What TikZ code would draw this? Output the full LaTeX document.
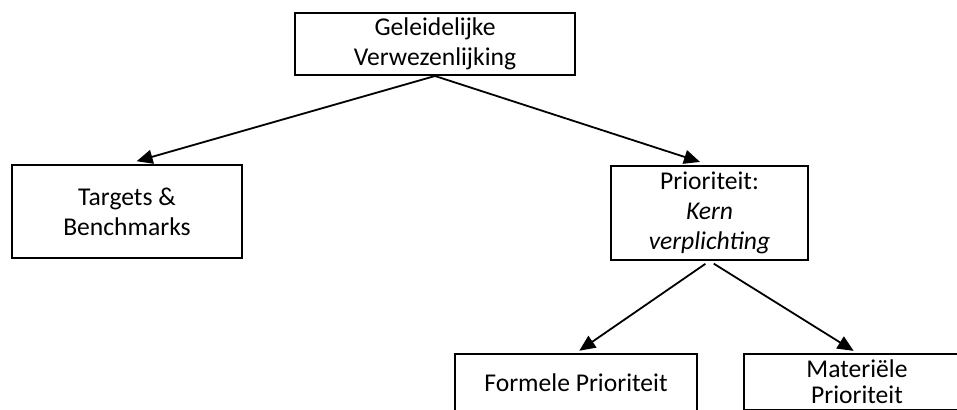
\documentclass[tikz,border=0pt]{standalone}
\usepackage{fontspec}
\setmainfont{Carlito}
\usetikzlibrary{arrows.meta}

\begin{document}
\begin{tikzpicture}[x=0.5pt,y=-0.5pt,
  box/.style={draw, line width=1pt, align=center, inner sep=0pt,
    font=\fontsize{12.8pt}{15pt}\selectfont},
  link/.style={line width=0.9pt, -{Triangle[length=8pt,width=7pt]}}]

 % frame
 \useasboundingbox (0,0) rectangle (957,410);
 \clip (0,0) rectangle (957,410);

 % nodes
 \node[box, minimum width=140pt, minimum height=31pt] (geleidelijk) at (435,44) {Geleidelijke\\Verwezenlijking};
 \node[box, minimum width=115pt, minimum height=46.5pt] (targets) at (127,211.5) {Targets \&\\Benchmarks};
 \node[box, minimum width=98.5pt, minimum height=47pt] (prioriteit) at (709.5,213) {Prioriteit:\\\textit{Kern}\\\textit{verplichting}};
 \node[box, minimum width=121pt, minimum height=29pt] (formeel) at (576,383) {Formele Prioriteit};
 \node[box, minimum width=113pt, minimum height=28pt,
   font=\fontsize{12.8pt}{13pt}\selectfont] (materieel) at (857,382) {Materiële\\Prioriteit};

 % arrows
 \draw[link, shorten >=5pt] (geleidelijk.south) -- (targets.north);
 \draw[link, shorten >=5pt] (geleidelijk.south) -- (prioriteit.north);
 \draw[link, shorten <=2.5pt, shorten >=2pt] (prioriteit.south) -- (formeel.north);
 \draw[link, shorten <=2.5pt, shorten >=2pt] (prioriteit.south) -- (materieel.north);
\end{tikzpicture}
\end{document}
